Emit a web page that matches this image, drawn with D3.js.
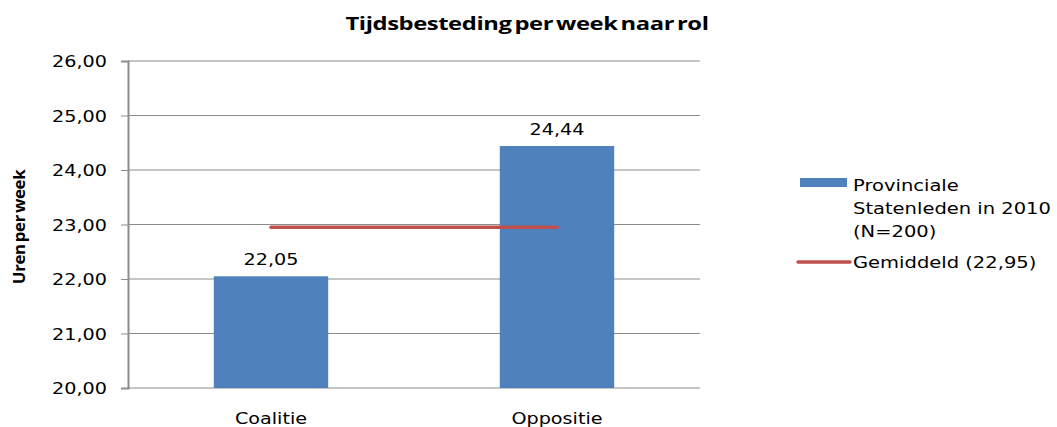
<!DOCTYPE html>
<html>
<head>
<meta charset="utf-8">
<script src="https://cdn.jsdelivr.net/npm/d3@7"></script>
<style>
  body { margin: 0; background: #fff; }
  text { font-family: "DejaVu Sans", sans-serif; fill: #000; }
  .lbl { font-size: 15px; }
  .leg { font-size: 16px; }
</style>
</head>
<body>
<div id="chart"></div>
<script>
// data
const categories = ["Coalitie", "Oppositie"]
const values = [22.05, 24.44]
const average = 22.95
const yTicks = [20, 21, 22, 23, 24, 25, 26]
const barLabel = ["Provinciale", "Statenleden in 2010", "(N=200)"]
const lineLabel = "Gemiddeld (22,95)"

const width = 1057, height = 427
const margin = {left: 128, right: 357, top: 61, bottom: 39}
const sx = 1.28  // the original text is drawn wide
const fmt = d => d.toFixed(2).replace(".", ",")

const svg = d3.select("#chart").append("svg")
    .attr("width", width).attr("height", height)

const x = d3.scaleBand().domain(categories)
    .range([margin.left, width - margin.right])
    .paddingInner(0.6).paddingOuter(0.3)
const y = d3.scaleLinear().domain([20, 26])
    .range([height - margin.bottom, margin.top])
const cx = d => x(d) + x.bandwidth() / 2

// gridlines
svg.append("g").selectAll("line").data(yTicks).join("line")
    .attr("x1", margin.left).attr("x2", width - margin.right)
    .attr("y1", d => y(d)).attr("y2", d => y(d))
    .attr("stroke", "#8c8c8c").attr("stroke-width", 1)

// y axis
const yAxis = svg.append("g")
    .attr("transform", `translate(${margin.left},0)`)
    .call(d3.axisLeft(y).tickValues(yTicks).tickFormat(fmt).tickSize(7))
yAxis.select(".domain").attr("stroke", "#8c8c8c").attr("stroke-width", 2)
yAxis.selectAll(".tick line").attr("stroke", "#8c8c8c")
yAxis.selectAll(".tick text")
    .attr("class", "lbl").attr("fill", "#000")
    .attr("x", -21 / sx).attr("dy", "0.38em")
    .attr("transform", `scale(${sx},1)`)

// bars
svg.append("g").selectAll("rect").data(values).join("rect")
    .attr("x", (d, i) => x(categories[i]))
    .attr("width", x.bandwidth())
    .attr("y", d => y(d))
    .attr("height", d => y(20) - y(d))
    .attr("fill", "#4f81bd")

// value labels
svg.append("g").selectAll("text").data(values).join("text")
    .attr("class", "lbl")
    .attr("transform", (d, i) => `translate(${cx(categories[i])},${y(d) - 11}) scale(${sx},1)`)
    .attr("text-anchor", "middle")
    .text(fmt)

// x labels
svg.append("g").selectAll("text").data(categories).join("text")
    .attr("class", "lbl")
    .attr("transform", d => `translate(${cx(d)},424) scale(${sx},1)`)
    .attr("text-anchor", "middle")
    .text(d => d)

// average line
svg.append("line")
    .attr("x1", cx(categories[0])).attr("x2", cx(categories[1]))
    .attr("y1", y(average)).attr("y2", y(average))
    .attr("stroke", "#c0504d").attr("stroke-width", 3.5)
    .attr("stroke-linecap", "round")

// title
svg.append("text")
    .attr("transform", "translate(527,30) scale(1.4,1)")
    .attr("text-anchor", "middle")
    .style("font-family", "'Open Sans', sans-serif")
    .style("font-weight", "bold").style("font-size", "17px")
    .style("letter-spacing", "-0.3px").style("word-spacing", "-2px")
    .text("Tijdsbesteding per week naar rol")

// y title
svg.append("text")
    .attr("transform", "translate(25,227) rotate(-90) scale(1.05,1)")
    .attr("text-anchor", "middle")
    .style("font-family", "'Open Sans', sans-serif")
    .style("font-weight", "bold").style("font-size", "16px")
    .style("letter-spacing", "-0.3px").style("word-spacing", "-2px")
    .text("Uren per week")

// legend
const lg = svg.append("g")
lg.append("rect").attr("x", 800).attr("y", 178).attr("width", 47).attr("height", 9)
    .attr("fill", "#4f81bd")
lg.selectAll("text.bar").data(barLabel).join("text")
    .attr("class", "leg")
    .attr("transform", (d, i) => `translate(853,${191 + i * 23}) scale(1.22,1)`)
    .text(d => d)
lg.append("line").attr("x1", 798).attr("x2", 850).attr("y1", 262).attr("y2", 262)
    .attr("stroke", "#c0504d").attr("stroke-width", 3.5).attr("stroke-linecap", "round")
lg.append("text").attr("class", "leg")
    .attr("transform", "translate(853,268) scale(1.22,1)")
    .text(lineLabel)
</script>
</body>
</html>
